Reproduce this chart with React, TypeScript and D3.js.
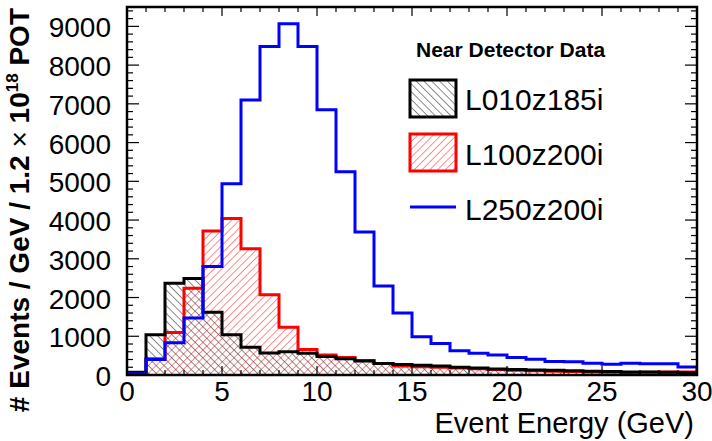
import React from "react";
import * as d3 from "d3";

const binEdges = d3.range(0, 31, 1);
const L010z185i = [70, 1040, 2370, 2490, 1620, 1040, 715, 570, 600, 560, 480, 420, 360, 300, 270, 250, 230, 200, 180, 155, 140, 130, 120, 110, 100, 90, 80, 75, 70, 60];
const L100z200i = [45, 420, 1100, 2240, 3720, 4040, 3260, 2070, 1230, 660, 517, 450, 375, 300, 235, 215, 200, 180, 160, 140, 125, 110, 100, 90, 80, 70, 65, 70, 80, 80];
const L250z200i = [30, 400, 835, 1470, 2800, 4940, 7100, 8480, 9070, 8480, 6850, 5250, 3690, 2300, 1600, 990, 815, 625, 560, 515, 455, 405, 350, 345, 302, 276, 302, 290, 290, 205];
const yTicks = [0, 1000, 2000, 3000, 4000, 5000, 6000, 7000, 8000, 9000];
const xTicks = [0, 5, 10, 15, 20, 25, 30];
const legendTitle = "Near Detector Data";
const seriesNames = ["L010z185i", "L100z200i", "L250z200i"];

const W = 712, H = 441;
const X0 = 127, X1 = 697, Y0 = 375, Y1 = 7;
const FONT = "'Liberation Sans', Arial, Helvetica, sans-serif";

export default function App() {
  const x = d3.scaleLinear().domain([0, 30]).range([X0, X1]);
  const y = d3.scaleLinear().domain([0, 9500]).range([Y0, Y1]);

  const stepPts = (vals: number[]) => {
    const pts: [number, number][] = [[binEdges[0], 0]];
    vals.forEach((v, i) => {
      pts.push([binEdges[i], v]);
      pts.push([binEdges[i + 1], v]);
    });
    pts.push([binEdges[binEdges.length - 1], 0]);
    return pts;
  };
  const line = d3.line<[number, number]>().x(d => x(d[0])).y(d => y(d[1]));
  const area = d3.area<[number, number]>().x(d => x(d[0])).y0(y(0)).y1(d => y(d[1]));

  const yMinor = d3.range(0, 9501, 200);
  const xMinor = d3.range(0, 31, 1);

  return (
    <svg width={W} height={H} style={{ position: "absolute", left: 0, top: 0, background: "#fff" }} fontFamily={FONT}>
      <defs>
        <pattern id="hatchBlack" patternUnits="userSpaceOnUse" width="5.5" height="5.5" patternTransform="rotate(-45)">
          <line x1="0" y1="0" x2="0" y2="5.5" stroke="#000" strokeWidth="0.9" />
        </pattern>
        <pattern id="hatchRed" patternUnits="userSpaceOnUse" width="5.5" height="5.5" patternTransform="rotate(45)">
          <line x1="0" y1="0" x2="0" y2="5.5" stroke="#ff0000" strokeWidth="0.9" />
        </pattern>
        <clipPath id="frameClip">
          <rect x={X0} y={Y1} width={X1 - X0} height={Y0 - Y1} />
        </clipPath>
      </defs>
      <rect x={0} y={0} width={W} height={H} fill="#fff" />
      <g clipPath="url(#frameClip)">
        <path d={area(stepPts(L010z185i)) || ""} fill="url(#hatchBlack)" />
        <path d={area(stepPts(L100z200i)) || ""} fill="url(#hatchRed)" />
        <path d={line(stepPts(L100z200i)) || ""} fill="none" stroke="#ff0000" strokeWidth={3} />
        <path d={line(stepPts(L010z185i)) || ""} fill="none" stroke="#000" strokeWidth={3} />
        <path d={line(stepPts(L250z200i)) || ""} fill="none" stroke="#0000ff" strokeWidth={3} />
      </g>
      {/* ticks */}
      <g stroke="#000" strokeWidth={1.2}>
        {yMinor.map(v => {
          const major = v % 1000 === 0;
          const len = major ? 12 : 6;
          return (
            <g key={"y" + v}>
              <line x1={X0} x2={X0 + len} y1={y(v)} y2={y(v)} />
              <line x1={X1} x2={X1 - len} y1={y(v)} y2={y(v)} />
            </g>
          );
        })}
        {xMinor.map(v => {
          const major = v % 5 === 0;
          const len = major ? 9 : 5;
          return (
            <g key={"x" + v}>
              <line x1={x(v)} x2={x(v)} y1={Y0} y2={Y0 - len} />
              <line x1={x(v)} x2={x(v)} y1={Y1} y2={Y1 + len} />
            </g>
          );
        })}
      </g>
      <rect x={X0} y={Y1} width={X1 - X0} height={Y0 - Y1} fill="none" stroke="#000" strokeWidth={2.5} />
      {/* tick labels */}
      {yTicks.map(v => (
        <text key={"yl" + v} x={111} y={y(v) + 11} textAnchor="end" fontSize={28} fill="#000">{v}</text>
      ))}
      {xTicks.map(v => (
        <text key={"xl" + v} x={x(v)} y={401} textAnchor="middle" fontSize={28} fill="#000">{v}</text>
      ))}
      <text x={694} y={433} textAnchor="end" fontSize={29} fill="#000">Event Energy (GeV)</text>
      <text transform="translate(29,8) rotate(-90)" textAnchor="end" fontSize={28} fontWeight="bold" fill="#000">
        # Events / GeV / 1.2 <tspan fontWeight="normal">×</tspan> 10<tspan fontSize={17} dy={-11}>18</tspan><tspan dy={11}> POT</tspan>
      </text>
      {/* legend */}
      <text x={416} y={57} fontSize={21} fontWeight="bold" fill="#000">{legendTitle}</text>
      <rect x={410} y={80} width={46} height={37} fill="url(#hatchBlack)" stroke="#000" strokeWidth={3} />
      <text x={465} y={110} fontSize={30} fill="#000">{seriesNames[0]}</text>
      <rect x={410} y={134} width={46} height={37} fill="url(#hatchRed)" stroke="#ff0000" strokeWidth={3} />
      <text x={465} y={165} fontSize={30} fill="#000">{seriesNames[1]}</text>
      <line x1={410} x2={456} y1={207} y2={207} stroke="#0000ff" strokeWidth={3} />
      <text x={465} y={220} fontSize={30} fill="#000">{seriesNames[2]}</text>
    </svg>
  );
}
